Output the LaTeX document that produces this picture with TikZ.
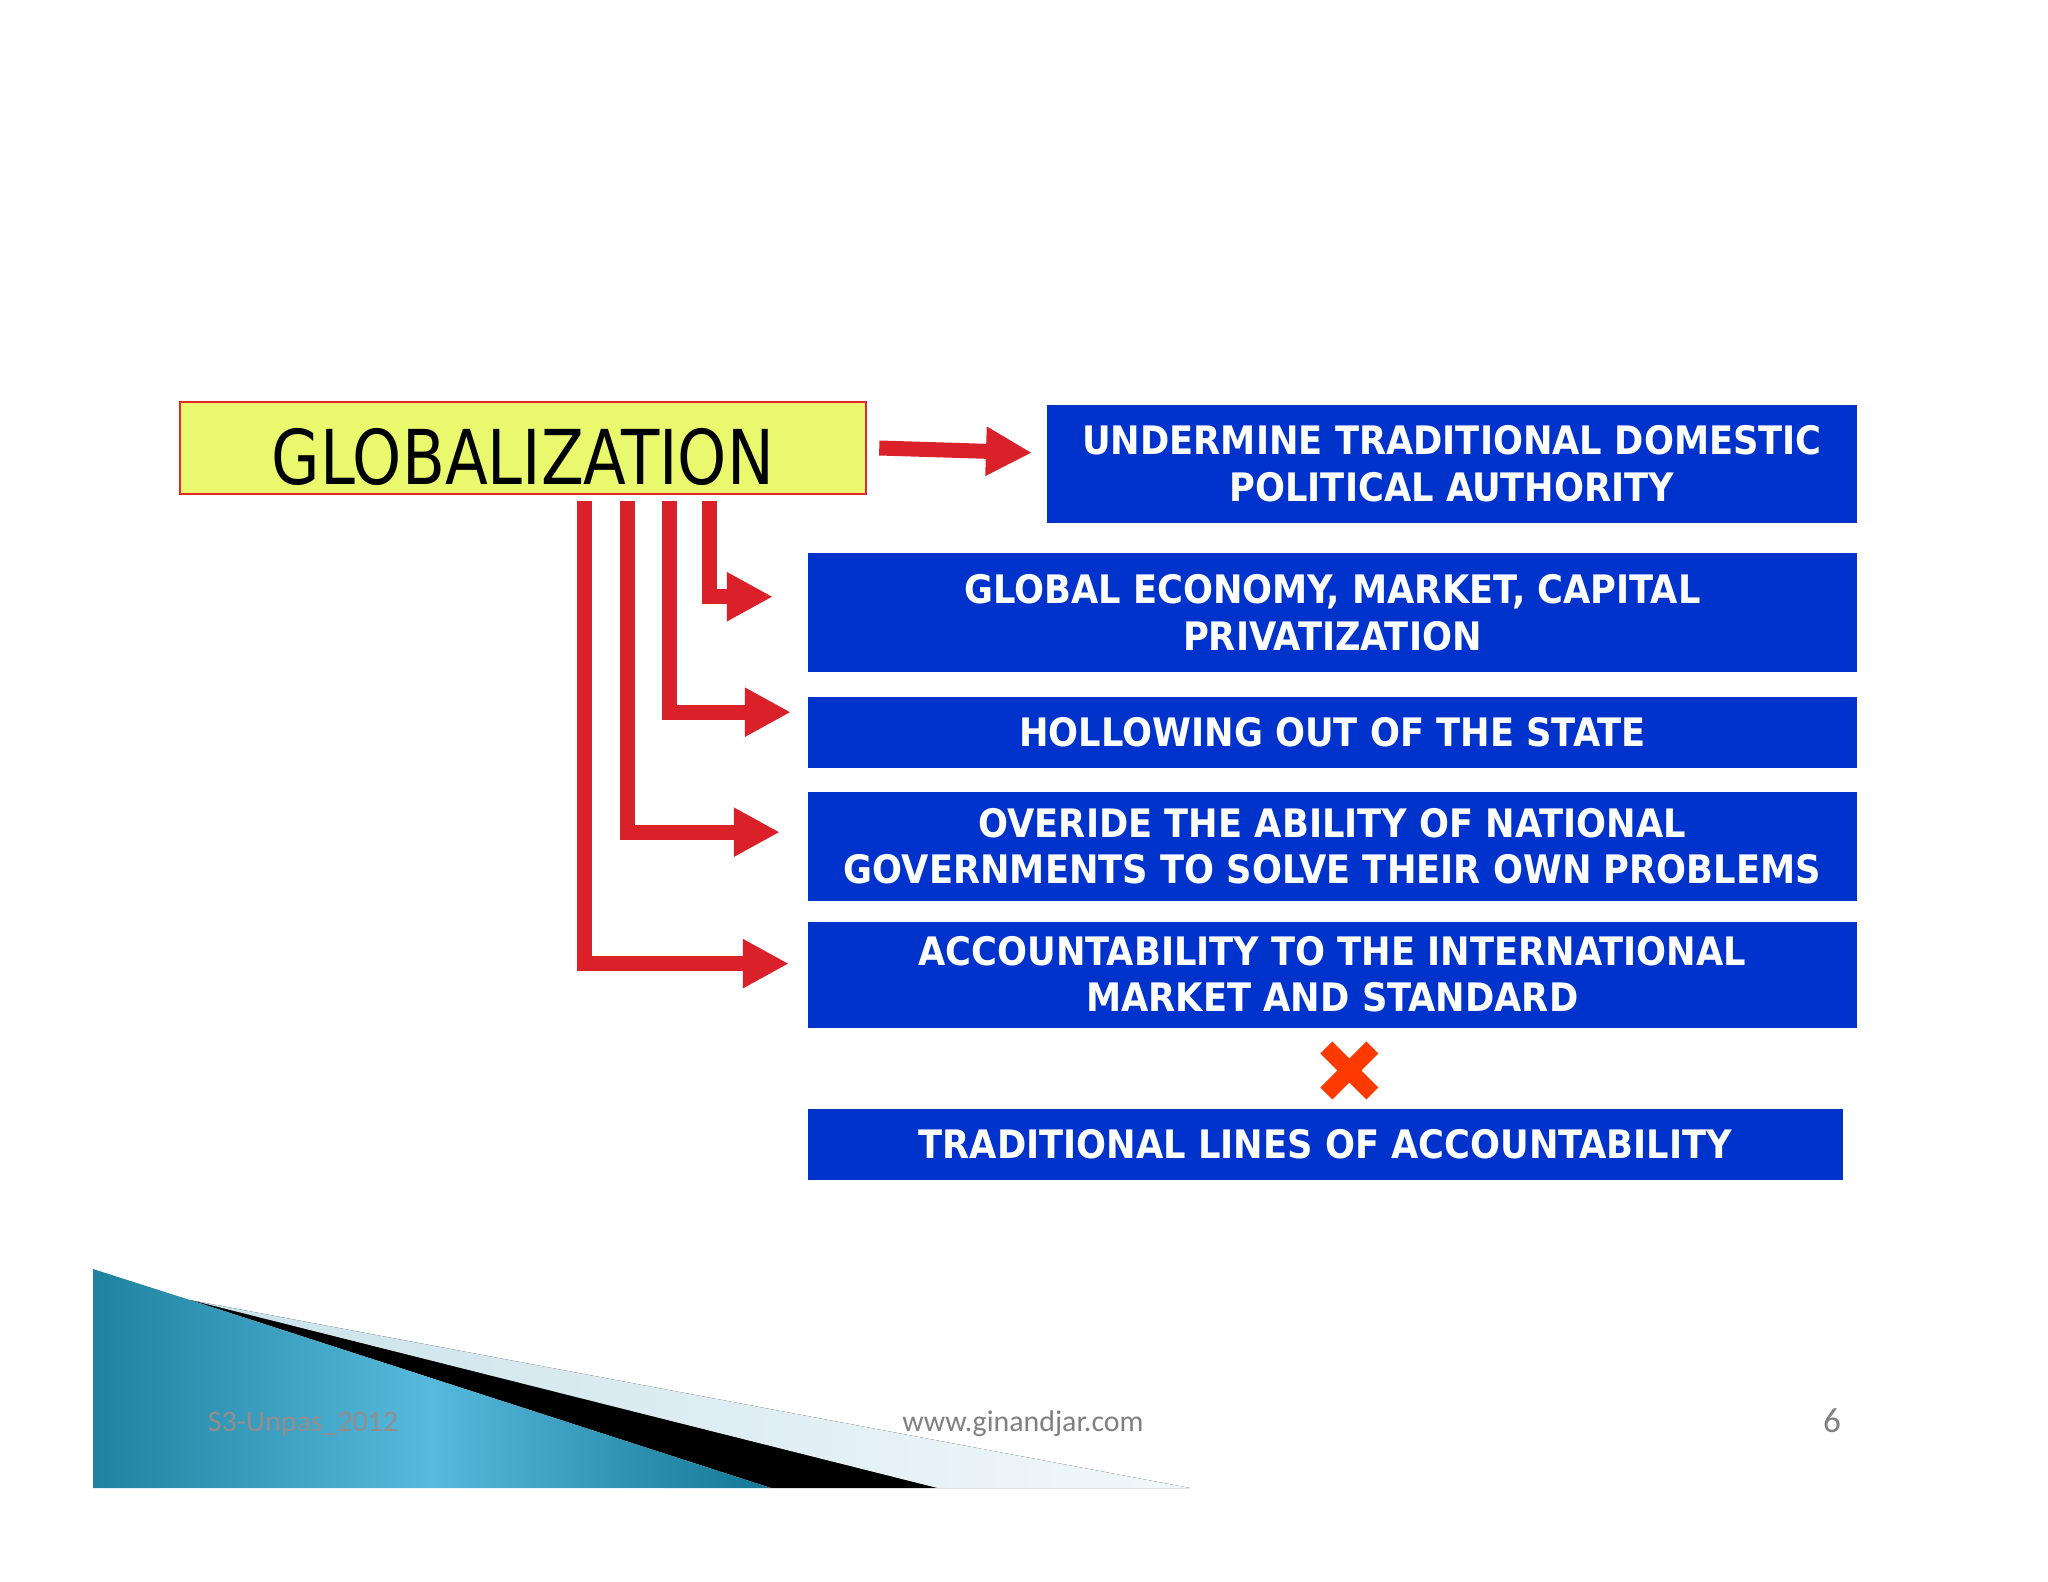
\documentclass[tikz,border=0pt]{standalone}
\usepackage{fontspec}
\setmainfont{DejaVu Sans Condensed}
\newfontfamily\globfont{DejaVu Sans Condensed}[FakeStretch=0.92]
\newfontfamily\footfont{Carlito}
\usepackage{xcolor}
\usetikzlibrary{positioning,arrows.meta,shapes.misc}

\definecolor{boxblue}{RGB}{0,51,204}
\definecolor{arrowred}{RGB}{218,32,41}
\definecolor{globyellow}{RGB}{234,248,110}
\definecolor{globborder}{RGB}{227,38,46}
\definecolor{crossorange}{RGB}{255,58,0}
\definecolor{tealdark}{RGB}{30,130,160}
\definecolor{teallight}{RGB}{86,186,222}
\definecolor{tealedge}{RGB}{18,118,148}
\definecolor{paleblue}{RGB}{200,226,234}
\definecolor{footgray}{RGB}{128,128,128}
\definecolor{footbrown}{RGB}{150,140,140}

\tikzstyle{bluebox} = [fill=boxblue, rectangle,
	text=white,
	font=\bfseries\fontsize{11.15}{13.1}\selectfont,
	minimum width=10.49cm,
	inner sep=0pt,
	align=center
	]
\tikzstyle{globbox} = [draw=globborder, fill=globyellow,
	line width=0.6pt,
	minimum width=6.86cm,
	minimum height=0.92cm,
	inner sep=0pt,
	text height=0.75cm,
	font=\globfont\fontsize{21.5}{24}\selectfont
	]
\tikzstyle{pfeil} = [draw=arrowred,
	line width=0.15cm, line join=miter,
	-{Triangle[length=0.46cm,width=0.46cm]}
	]
\tikzstyle{crossmark} = [cross out, draw=crossorange,
	line width=0.17cm,
	minimum size=0.46cm,
	inner sep=0pt, outer sep=0pt
	]
\tikzstyle{foot} = [font=\footfont\fontsize{8.5}{10}\selectfont]

\begin{document}
\begin{tikzpicture}[x=0.01cm, y=-0.01cm]
    \useasboundingbox (0,0) rectangle (2048,1582);

    \fill[left color=paleblue, right color=paleblue!25] (190,1300) -- (1190,1488) -- (937,1488) -- cycle;
    \fill[black] (190,1300) -- (937,1488) -- (771,1488) -- cycle;
    \shade[left color=tealdark, right color=tealedge, middle color=teallight]
    	(93,1269) -- (190,1300) -- (771,1488) -- (93,1488) -- cycle;

    \node [globbox] (glob) at (523,448) {GLOBALIZATION};

    \node [bluebox, minimum width=8.1cm, minimum height=1.18cm, anchor=north west] (under) at (1046,404)
    	{UNDERMINE TRADITIONAL DOMESTIC\\POLITICAL AUTHORITY};
    \node [bluebox, minimum height=1.19cm, below=0.29cm of under.south east, anchor=north east] (econ)
    	{GLOBAL ECONOMY, MARKET, CAPITAL\\PRIVATIZATION};
    \node [bluebox, minimum height=0.71cm, below=0.23cm of econ] (hollow)
    	{HOLLOWING OUT OF THE STATE};
    \node [bluebox, minimum height=1.09cm, below=0.23cm of hollow] (overide)
    	{OVERIDE THE ABILITY OF NATIONAL\\GOVERNMENTS TO SOLVE THEIR OWN PROBLEMS};
    \node [bluebox, minimum height=1.06cm, below=0.19cm of overide] (account)
    	{ACCOUNTABILITY TO THE INTERNATIONAL\\MARKET AND STANDARD};
    \node [bluebox, minimum width=10.35cm, minimum height=0.71cm, below=0.80cm of account.south west, anchor=north west] (trad)
    	{TRADITIONAL LINES OF ACCOUNTABILITY};

    \node [crossmark, below=0.19cm of account, xshift=0.17cm] (cross) {};

    \draw [pfeil] ([xshift=0.12cm]glob.east) -- ([xshift=-0.14cm,yshift=0.11cm]under.west);
    \draw [pfeil] ([xshift=1.86cm,yshift=-0.06cm]glob.south) |- ([xshift=-0.34cm,yshift=0.16cm]econ.west);
    \draw [pfeil] ([xshift=1.46cm,yshift=-0.06cm]glob.south) |- ([xshift=-0.16cm,yshift=0.20cm]hollow.west);
    \draw [pfeil] ([xshift=1.04cm,yshift=-0.06cm]glob.south) |- ([xshift=-0.27cm,yshift=0.145cm]overide.west);
    \draw [pfeil] ([xshift=0.61cm,yshift=-0.06cm]glob.south) |- ([xshift=-0.18cm,yshift=0.11cm]account.west);

    \node [foot, text=footbrown] (series) at (303,1424) {S3-Unpas\_2012};
    \node [foot, text=footgray] (site) at (1023,1424) {www.ginandjar.com};
    \node [foot, text=footgray, font=\footfont\fontsize{10}{12}\selectfont] (pagenum) at (1832,1421) {6};
\end{tikzpicture}
\end{document}
